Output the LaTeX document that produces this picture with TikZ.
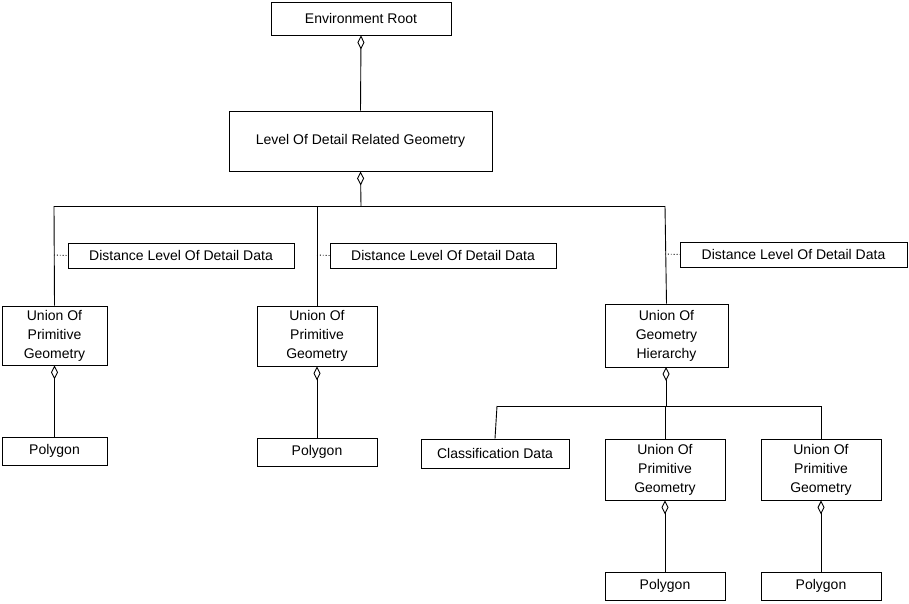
\documentclass[tikz,border=0pt]{standalone}
\usepackage{fontspec}
\setmainfont{Liberation Sans}
\usetikzlibrary{arrows.meta}
\begin{document}
\begin{tikzpicture}[x=1pt,y=-1pt,
  box/.style={draw,line width=0.9pt,align=center,font=\fontsize{14}{19}\selectfont,inner sep=0pt},
  agg/.style={line width=0.9pt,{Diamond[open,width=7pt,length=14pt]}-},
  ln/.style={line width=0.9pt},
  dot/.style={line width=0.9pt,dotted}]
\useasboundingbox (0,0) rectangle (909,603);
\def\bx#1#2#3#4#5#6{\node[box,minimum width=#4-#2,minimum height=#5-#3] (#1) at ({(#2+#4)/2},{(#3+#5)/2}) {#6};}
\bx{env}{271}{2}{451}{35}{Environment Root}
\bx{lod}{229}{111}{492}{171}{Level Of Detail Related Geometry}
\bx{d1}{68}{243}{294}{268}{Distance Level Of Detail Data}
\bx{d2}{330}{243}{556}{268}{Distance Level Of Detail Data}
\bx{d3}{680}{242}{907}{267}{Distance Level Of Detail Data}
\bx{u1}{2}{306}{107}{365}{Union Of\\Primitive\\Geometry}
\bx{u2}{257}{306}{377}{366}{Union Of\\Primitive\\Geometry}
\bx{ugh}{605}{304}{728}{367}{Union Of\\Geometry\\Hierarchy}
\bx{p1}{2}{437}{107}{465}{Polygon}
\bx{p2}{257}{438}{377}{466}{Polygon}
\bx{cd}{421}{439}{569}{468}{Classification Data}
\bx{u3}{605}{439}{725}{500}{Union Of\\Primitive\\Geometry}
\bx{u4}{761}{439}{881}{500}{Union Of\\Primitive\\Geometry}
\bx{p3}{605}{572}{725}{600}{Polygon}
\bx{p4}{761}{572}{881}{600}{Polygon}
\draw[agg] (env.south) -- (lod.north);
\coordinate (b1) at (361,206);
\draw[agg] (lod.south) -- (b1);
\draw[ln] (54,206) -- (665,206);
\draw[ln] (54,206) -- (u1.north);
\draw[ln] (317,206) -- (u2.north);
\draw[ln] (665,206) -- (ugh.north);
\draw[dot] (54,255) -- (d1.west);
\draw[dot] (317,255) -- (d2.west);
\draw[dot] (665,254) -- (d3.west);
\draw[agg] (u1.south) -- (p1.north);
\draw[agg] (u2.south) -- (p2.north);
\coordinate (b2) at (666,406);
\draw[agg] (666,367) -- (b2);
\draw[ln] (497,406) -- (821,406);
\draw[ln] (497,406) -- (cd.north);
\draw[ln] (665,406) -- (u3.north);
\draw[ln] (821,406) -- (u4.north);
\draw[agg] (u3.south) -- (p3.north);
\draw[agg] (u4.south) -- (p4.north);
\end{tikzpicture}
\end{document}
